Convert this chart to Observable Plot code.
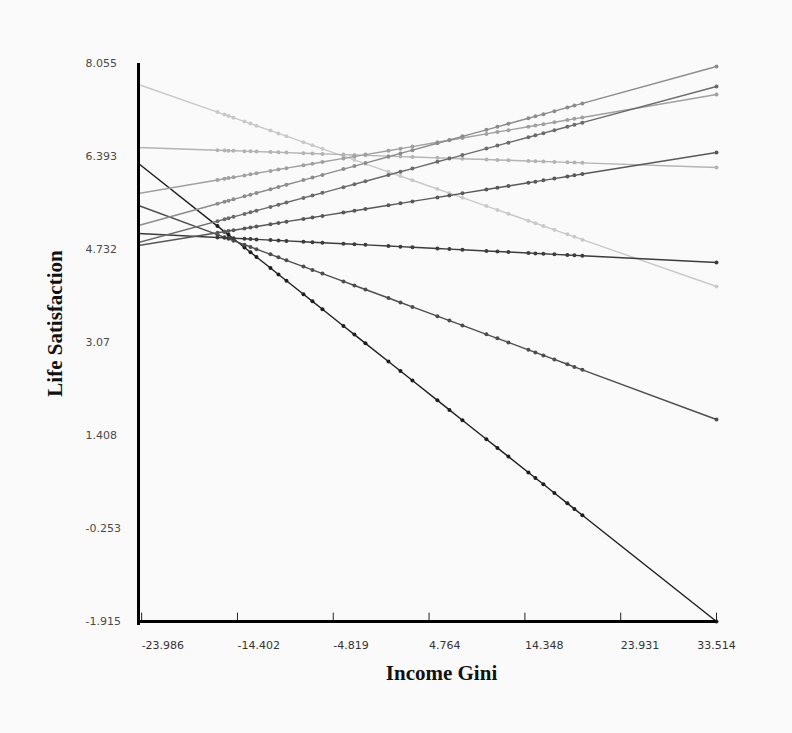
<!DOCTYPE html>
<html>
<head>
<meta charset="utf-8">
<script src="https://cdn.jsdelivr.net/npm/d3@7"></script>
<script src="https://cdn.jsdelivr.net/npm/@observablehq/plot@0.6"></script>
<style>
  html, body { margin: 0; padding: 0; background: #fafafa; }
  #chart svg { display: block; }
</style>
</head>
<body>
<div id="chart"></div>
<script>
// Tick labels as printed on the chart
const xTicks = [-23.986, -14.402, -4.819, 4.764, 14.348, 23.931, 33.514];
const yTicks = [-1.915, -0.253, 1.408, 3.07, 4.732, 6.393, 8.055];

// Income Gini positions of the plotted points (first = left end of each line at the axis)
const giniX = [-24.3, -16.4, -15.7, -15.3, -14.8, -13.7, -13.1, -12.5, -11.1, -10.3, -9.5, -7.8,
               -6.9, -5.9, -3.8, -2.7, -1.6, 0.7, 1.9, 3.1, 5.6, 6.8, 8.1, 10.5, 11.6, 12.7,
               14.7, 15.4, 16.2, 17.3, 18.6, 19.3, 20.1, 33.514];

// Life satisfaction values of each line, read at those positions
const seriesA = [7.680, 7.187, 7.143, 7.118, 7.087, 7.018, 6.981, 6.943, 6.856, 6.806, 6.756, 6.650,
                 6.594, 6.531, 6.400, 6.332, 6.263, 6.119, 6.044, 5.969, 5.813, 5.738, 5.657, 5.507,
                 5.439, 5.370, 5.245, 5.202, 5.152, 5.083, 5.002, 4.958, 4.908, 4.071];
const seriesB = [6.554, 6.505, 6.501, 6.498, 6.495, 6.489, 6.485, 6.481, 6.473, 6.468, 6.463, 6.452,
                 6.447, 6.440, 6.427, 6.421, 6.414, 6.400, 6.392, 6.385, 6.369, 6.362, 6.354, 6.339,
                 6.332, 6.326, 6.313, 6.309, 6.304, 6.297, 6.289, 6.285, 6.280, 6.197];
const seriesC = [6.268, 5.150, 5.051, 4.994, 4.923, 4.768, 4.683, 4.598, 4.400, 4.286, 4.173, 3.933,
                 3.805, 3.664, 3.366, 3.211, 3.055, 2.730, 2.560, 2.390, 2.036, 1.866, 1.682, 1.342,
                 1.187, 1.031, 0.748, 0.649, 0.536, 0.380, 0.196, 0.097, -0.016, -1.915];
const seriesD = [5.518, 4.996, 4.949, 4.923, 4.890, 4.817, 4.777, 4.738, 4.645, 4.592, 4.539, 4.427,
                 4.367, 4.301, 4.162, 4.089, 4.017, 3.865, 3.785, 3.706, 3.540, 3.461, 3.375, 3.216,
                 3.144, 3.071, 2.939, 2.892, 2.839, 2.767, 2.681, 2.634, 2.581, 1.694];
const seriesE = [5.018, 4.947, 4.941, 4.937, 4.933, 4.923, 4.918, 4.912, 4.900, 4.893, 4.885, 4.870,
                 4.862, 4.853, 4.834, 4.825, 4.815, 4.794, 4.783, 4.773, 4.750, 4.739, 4.728, 4.706,
                 4.696, 4.687, 4.669, 4.662, 4.655, 4.645, 4.634, 4.627, 4.620, 4.500];
const seriesF = [5.732, 5.974, 5.995, 6.007, 6.023, 6.056, 6.075, 6.093, 6.136, 6.160, 6.185, 6.237,
                 6.264, 6.295, 6.359, 6.393, 6.427, 6.497, 6.534, 6.570, 6.647, 6.684, 6.723, 6.797,
                 6.831, 6.864, 6.925, 6.947, 6.971, 7.005, 7.045, 7.066, 7.091, 7.501];
const seriesG = [5.161, 5.549, 5.583, 5.603, 5.628, 5.682, 5.711, 5.741, 5.809, 5.849, 5.888, 5.972,
                 6.016, 6.065, 6.168, 6.222, 6.276, 6.389, 6.448, 6.507, 6.630, 6.689, 6.753, 6.870,
                 6.924, 6.978, 7.077, 7.111, 7.150, 7.204, 7.268, 7.303, 7.342, 8.001];
const seriesH = [4.857, 5.238, 5.272, 5.291, 5.315, 5.368, 5.397, 5.426, 5.493, 5.532, 5.571, 5.653,
                 5.696, 5.744, 5.845, 5.898, 5.951, 6.062, 6.120, 6.178, 6.299, 6.356, 6.419, 6.535,
                 6.588, 6.641, 6.737, 6.771, 6.810, 6.863, 6.925, 6.959, 6.998, 7.644];
const seriesI = [4.803, 5.030, 5.050, 5.062, 5.076, 5.108, 5.125, 5.142, 5.183, 5.206, 5.229, 5.277,
                 5.303, 5.332, 5.392, 5.424, 5.456, 5.522, 5.556, 5.591, 5.663, 5.697, 5.735, 5.804,
                 5.835, 5.867, 5.924, 5.944, 5.967, 5.999, 6.036, 6.057, 6.080, 6.465];

const seriesNames = ["A", "B", "C", "D", "E", "F", "G", "H", "I"];
const seriesValues = [seriesA, seriesB, seriesC, seriesD, seriesE, seriesF, seriesG, seriesH, seriesI];
const seriesColors = ["#c9c9c9", "#b3b3b3", "#1e1e1e", "#4d4d4d", "#3c3c3c", "#a0a0a0", "#8c8c8c", "#6b6b6b", "#585858"];

const xLabel = "Income Gini";
const yLabel = "Life Satisfaction";

const rows = [];
seriesNames.forEach((s, k) => {
  seriesValues[k].forEach((y, i) => rows.push({s, i, x: giniX[i], y}));
});

const xMin = giniX[0], xMax = giniX[giniX.length - 1];
const yMin = yTicks[0], yMax = yTicks[yTicks.length - 1];

const chart = Plot.plot({
  width: 792,
  height: 733,
  marginLeft: 138,
  marginRight: 76,
  marginTop: 63,
  marginBottom: 112,
  style: { background: "transparent", fontFamily: "DejaVu Sans", fontSize: "11px", color: "#333" },
  x: { domain: [xMin, xMax] },
  y: { domain: [yMin, yMax] },
  color: { domain: seriesNames, range: seriesColors },
  marks: [
    Plot.axisY({ ticks: yTicks, tickFormat: d => String(d), tickSize: 0, tickPadding: 0,
                 textAnchor: "start", dx: -53, label: null, fill: "#4a4a4a" }),
    Plot.axisX({ ticks: xTicks.slice(0, -1), tickFormat: d => String(d), tickSize: 0, tickPadding: 20,
                 textAnchor: "start", label: null, fill: "#333" }),
    Plot.axisX({ ticks: xTicks.slice(-1), tickFormat: d => String(d), tickSize: 0, tickPadding: 20,
                 textAnchor: "middle", label: null, fill: "#333" }),
    Plot.ruleX(xTicks, { x: d => d, y1: yMin, y2: yMin + 0.15, stroke: "#222", strokeWidth: 1 }),
    Plot.line(rows, { x: "x", y: "y", z: "s", stroke: "s", strokeWidth: 1.4 }),
    Plot.dot(rows.filter(d => d.i > 0), { x: "x", y: "y", fill: "s", r: 2 }),
    Plot.ruleX([xMin], { y1: yMin, y2: yMax, insetTop: 4, stroke: "#000", strokeWidth: 3 }),
    Plot.ruleY([yMin], { stroke: "#000", strokeWidth: 3 }),
    Plot.text([yLabel], { text: d => d, frameAnchor: "left", textAnchor: "middle", lineAnchor: "middle",
                          rotate: -90, dx: -83, dy: -19,
                          fontFamily: "Liberation Serif", fontWeight: "bold", fontSize: 21, fill: "#111" }),
    Plot.text([xLabel], { text: d => d, frameAnchor: "bottom", textAnchor: "middle", lineAnchor: "bottom",
                          dx: 14, dy: 58,
                          fontFamily: "Liberation Serif", fontWeight: "bold", fontSize: 21, fill: "#111" })
  ]
});

document.getElementById("chart").appendChild(chart);
</script>
</body>
</html>
